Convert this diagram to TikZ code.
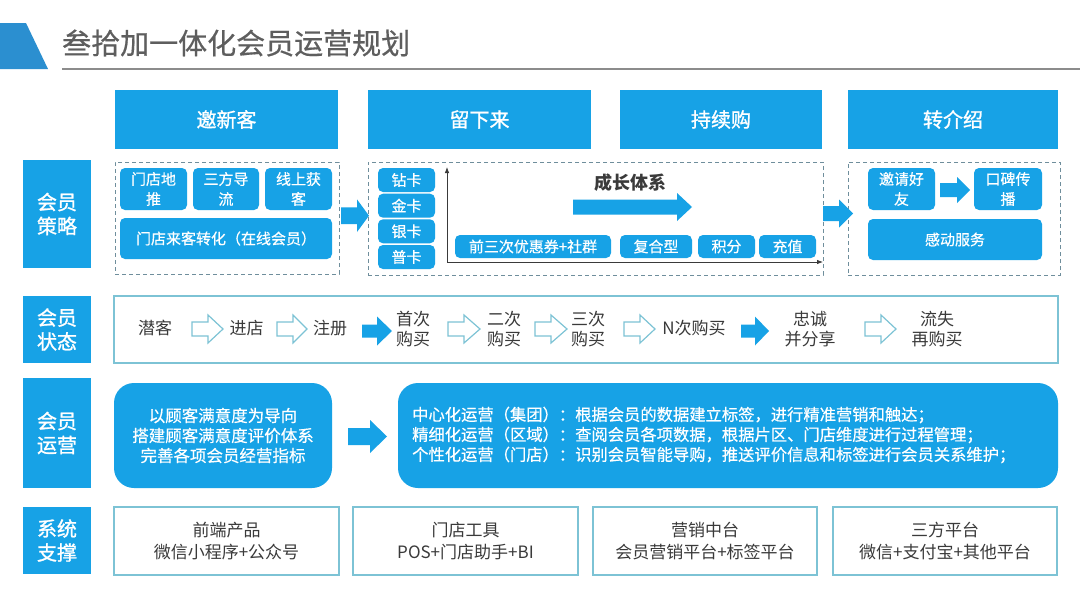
\documentclass[tikz,border=0pt]{standalone}
\usepackage{fontspec}
\setmainfont{Noto Sans CJK SC}
\newfontfamily\medfont[FakeBold=1.2]{Noto Sans CJK SC}
\newfontfamily\semifont[FakeBold=0.5]{Noto Sans CJK SC}
\usetikzlibrary{arrows.meta}
\definecolor{mblue}{HTML}{17A2E6}
\definecolor{tabblue}{HTML}{2B8FD0}
\definecolor{txt}{HTML}{3A3A3A}
\definecolor{edgec}{HTML}{7DC3D5}
\definecolor{dashc}{HTML}{6F8E9C}
\definecolor{titlec}{HTML}{5E5E5E}
\definecolor{rulec}{HTML}{8C8C8C}
% #1 style, #2 x start, #3 x tip, #4 y centre, #5 half body, #6 half head, #7 x where head starts
\newcommand\blockarrow[7]{\path[#1] (#2,#4-#5) -- (#7,#4-#5) -- (#7,#4-#6) -- (#3,#4) -- (#7,#4+#6) -- (#7,#4+#5) -- (#2,#4+#5) -- cycle;}
\begin{document}
\begin{tikzpicture}[x=1pt,y=-1pt,
  bbox/.style={fill=mblue, text=white, inner sep=0pt, outer sep=0pt, align=center},
  hdr/.style={bbox, minimum height=59pt, font=\medfont\fontsize{20}{24}\selectfont},
  lbl/.style={bbox, minimum width=68pt, font=\medfont\fontsize{20}{24}\selectfont},
  sbox/.style={bbox, rounded corners=5pt, font=\semifont\fontsize{15}{20}\selectfont},
  rbox/.style={bbox, rounded corners=20pt},
  dbox/.style={draw=dashc, dash pattern=on 4pt off 3pt, line width=1pt, inner sep=0pt, outer sep=0pt},
  obox/.style={draw=edgec, line width=1.5pt, fill=white, inner sep=0pt, outer sep=0pt, align=center, text=txt, font=\fontsize{17}{22}\selectfont},
  stxt/.style={text=txt, align=center, font=\fontsize{17}{20}\selectfont, inner sep=0pt},
  harrow/.style={draw=edgec, line width=1.2pt, fill=white, line join=miter},
  farrow/.style={fill=mblue, draw=none},
  axis/.style={draw=txt, line width=0.8pt, -{Latex[length=6pt,width=4.5pt]}}
]
\useasboundingbox[fill=white] (0,0) rectangle (1080,608);

% ---------- title ----------
\fill[tabblue] (0,23) -- (26,23) -- (48,69) -- (0,69) -- cycle;
\node[anchor=west, text=titlec, font=\semifont\fontsize{29}{32}\selectfont, inner sep=0pt] (title) at (62,43) {叁拾加一体化会员运营规划};
\draw[rulec, line width=2.2pt] (62,69) -- (1080,69);

% ---------- header row ----------
\node[hdr, minimum width=223pt] (h1) at (226.5,119.5) {邀新客};
\node[hdr, minimum width=223pt] (h2) at (479.5,119.5) {留下来};
\node[hdr, minimum width=202pt] (h3) at (721,119.5) {持续购};
\node[hdr, minimum width=210pt] (h4) at (953,119.5) {转介绍};

% ---------- row labels ----------
\node[lbl, minimum height=108pt] (l1) at (57,214) {会员\\策略};
\node[lbl, minimum height=67pt] (l2) at (57,329.5) {会员\\状态};
\node[lbl, minimum height=110pt] (l3) at (57,433) {会员\\运营};
\node[lbl, minimum height=67pt] (l4) at (57,540.5) {系统\\支撑};

% ---------- row 1: member strategy ----------
\node[dbox, minimum width=224pt, minimum height=112pt] (d1) at (227,218) {};
\node[dbox, minimum width=455pt, minimum height=113pt] (d2) at (595.5,218.5) {};
\node[dbox, minimum width=212pt, minimum height=113pt] (d3) at (954,218.5) {};

\node[sbox, minimum width=67pt, minimum height=42pt] (a1) at (153.5,189) {门店地\\推};
\node[sbox, minimum width=66pt, minimum height=42pt] (a2) at (226,189) {三方导\\流};
\node[sbox, minimum width=67pt, minimum height=42pt] (a3) at (298.5,189) {线上获\\客};
\node[sbox, minimum width=212pt, minimum height=41pt] (a4) at (226,238.5) {门店来客转化（在线会员）};

\blockarrow{farrow}{341}{369}{215.7}{8.3}{16.3}{357}

\node[sbox, minimum width=57pt, minimum height=24pt] (k1) at (406.5,180) {钻卡};
\node[sbox, minimum width=57pt, minimum height=24pt] (k2) at (406.5,205.7) {金卡};
\node[sbox, minimum width=57pt, minimum height=24pt] (k3) at (406.5,231.3) {银卡};
\node[sbox, minimum width=57pt, minimum height=24pt] (k4) at (406.5,257) {普卡};

\coordinate (o) at (447,262);
\coordinate (ytop) at (447,167);
\coordinate (xend) at (823,262);
\draw[axis] (o) -- (ytop);
\draw[axis] (o) -- (xend);

\node[text=txt, font=\bfseries\fontsize{18}{22}\selectfont, inner sep=0pt] (grow) at (630,183) {成长体系};
\blockarrow{farrow}{573}{692}{207}{7.5}{14}{677}

\node[sbox, minimum width=156pt, minimum height=23pt] (b1) at (533,246.5) {前三次优惠券+社群};
\node[sbox, minimum width=72pt, minimum height=23pt] (b2) at (656,246.5) {复合型};
\node[sbox, minimum width=57pt, minimum height=23pt] (b3) at (726.5,246.5) {积分};
\node[sbox, minimum width=57pt, minimum height=23pt] (b4) at (787.5,246.5) {充值};

\blockarrow{farrow}{823}{853}{213.5}{7.5}{14}{839}

\node[sbox, minimum width=67pt, minimum height=42pt] (c1) at (901.5,189) {邀请好\\友};
\blockarrow{farrow}{940}{970}{190}{7}{13}{957}
\node[sbox, minimum width=68pt, minimum height=42pt] (c2) at (1008,189) {口碑传\\播};
\node[sbox, minimum width=174pt, minimum height=41pt] (c3) at (955,239.5) {感动服务};

% ---------- row 2: member status ----------
\node[obox, minimum width=944pt, minimum height=67pt] (st) at (586,329.5) {};
\node[stxt] (s1) at (155,328) {潜客};
\blockarrow{harrow}{192}{223}{329}{7}{14}{208}
\node[stxt] (s2) at (246.5,328) {进店};
\blockarrow{harrow}{277}{307}{329}{7}{14}{293}
\node[stxt] (s3) at (330,328) {注册};
\blockarrow{farrow}{362}{392}{331}{6.5}{14.5}{377}
\node[stxt] (s4) at (413,329) {首次\\购买};
\blockarrow{harrow}{448}{480}{329}{7}{14}{464}
\node[stxt] (s5) at (504,329) {二次\\购买};
\blockarrow{harrow}{535}{567}{329}{7}{14}{551}
\node[stxt] (s6) at (588,329) {三次\\购买};
\blockarrow{harrow}{624}{655}{329}{7}{14}{640}
\node[stxt] (s7) at (694,328) {N次购买};
\blockarrow{farrow}{741}{769}{331}{6.5}{14.5}{755}
\node[stxt] (s8) at (810,329) {忠诚\\并分享};
\blockarrow{harrow}{865}{896}{329}{7}{14}{881}
\node[stxt] (s9) at (937,329) {流失\\再购买};

% ---------- row 3: member operation ----------
\node[rbox, minimum width=218pt, minimum height=105pt, font=\semifont\fontsize{16.5}{20}\selectfont] (r1) at (223,435.5) {以顾客满意度为导向\\搭建顾客满意度评价体系\\完善各项会员经营指标};
\blockarrow{farrow}{348}{387}{436.5}{8.5}{16.5}{370}
\node[rbox, minimum width=660pt, minimum height=105pt] (r2) at (728,435.5) {};
\node[anchor=west, text=white, align=left, inner sep=0pt, font=\semifont\fontsize{16.3}{20}\selectfont] (r2t) at (412,435) {中心化运营（集团）：根据会员的数据建立标签，进行精准营销和触达；\\精细化运营（区域）：查阅会员各项数据，根据片区、门店维度进行过程管理；\\个性化运营（门店）：识别会员智能导购，推送评价信息和标签进行会员关系维护；};

% ---------- row 4: system support ----------
\node[obox, minimum width=225pt, minimum height=68pt] (y1) at (226.5,541) {前端产品\\微信小程序+公众号};
\node[obox, minimum width=225pt, minimum height=68pt] (y2) at (465.5,541) {门店工具\\POS+门店助手+BI};
\node[obox, minimum width=224pt, minimum height=68pt] (y3) at (705,541) {营销中台\\会员营销平台+标签平台};
\node[obox, minimum width=224pt, minimum height=68pt] (y4) at (945,541) {三方平台\\微信+支付宝+其他平台};
\end{tikzpicture}
\end{document}
